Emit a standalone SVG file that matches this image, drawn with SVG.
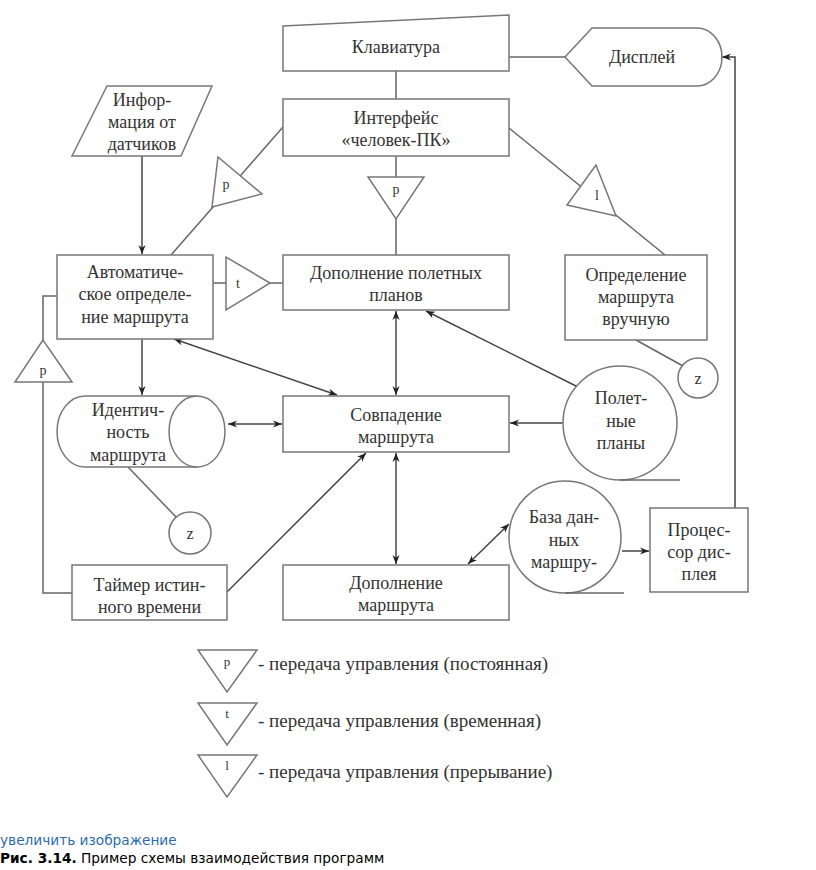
<svg xmlns="http://www.w3.org/2000/svg" width="816" height="870" viewBox="0 0 816 870">
<defs>
<marker id="ah" viewBox="0 0 10 10" refX="10" refY="5" markerWidth="9" markerHeight="9" markerUnits="userSpaceOnUse" orient="auto-start-reverse">
<path d="M0,1 L10,5 L0,9 L3,5 Z" fill="#222"/>
</marker>
<style>
.s{fill:#fff;stroke:#777;stroke-width:1.5}
.l{fill:none;stroke:#666;stroke-width:1.5}
.a{fill:none;stroke:#444;stroke-width:1.5}
.t{font-family:"Liberation Serif","Times New Roman",serif;font-size:18px;fill:#333;text-anchor:middle}
.m{font-family:"Liberation Serif","Times New Roman",serif;font-size:14px;fill:#333;text-anchor:middle}
.g{font-family:"Liberation Serif","Times New Roman",serif;font-size:19px;fill:#333}
</style>
</defs>
<rect width="816" height="870" fill="#fff"/>

<g id="connectors">
<line class="l" x1="396" y1="71" x2="396" y2="99"/>
<line class="l" x1="509" y1="57" x2="565" y2="57"/>
<polyline class="a" points="735,508 735,57 722,57" marker-end="url(#ah)"/>
<line class="a" x1="142" y1="156" x2="142" y2="254" marker-end="url(#ah)"/>
<line class="l" x1="283" y1="127" x2="171" y2="255"/>
<line class="l" x1="213" y1="283" x2="283" y2="283"/>
<line class="l" x1="396" y1="156" x2="396" y2="255"/>
<line class="l" x1="509" y1="128" x2="665" y2="255"/>
<line class="l" x1="636" y1="340" x2="683" y2="366"/>
<line class="a" x1="578" y1="387" x2="426" y2="311" marker-end="url(#ah)"/>
<line class="a" x1="563" y1="423" x2="510" y2="423" marker-end="url(#ah)"/>
<line class="a" x1="396" y1="311" x2="396" y2="395" marker-start="url(#ah)" marker-end="url(#ah)"/>
<line class="a" x1="174" y1="339" x2="337" y2="395" marker-start="url(#ah)" marker-end="url(#ah)"/>
<line class="a" x1="228" y1="424" x2="282" y2="424" marker-start="url(#ah)" marker-end="url(#ah)"/>
<line class="a" x1="142" y1="339" x2="142" y2="395" marker-end="url(#ah)"/>
<line class="l" x1="128" y1="467" x2="176" y2="517"/>
<polyline class="l" points="72,593 43,593 43,382"/>
<polyline class="l" points="43,340 43,296 57,296"/>
<line class="a" x1="227" y1="592" x2="366" y2="453" marker-end="url(#ah)"/>
<line class="a" x1="396" y1="453" x2="396" y2="564" marker-start="url(#ah)" marker-end="url(#ah)"/>
<line class="a" x1="468" y1="564" x2="509" y2="524" marker-start="url(#ah)" marker-end="url(#ah)"/>
<line class="a" x1="622" y1="551" x2="649" y2="551" marker-end="url(#ah)"/>
</g>

<g id="keyboard">
<polygon class="s" points="283,26 509,15 509,71 283,71"/>
<text class="t" x="396" y="53">Клавиатура</text>
</g>

<g id="display">
<path class="s" d="M565,57 L592,28 L697,28 A25,29 0 0 1 697,86 L592,86 Z"/>
<text class="t" x="642" y="63">Дисплей</text>
</g>

<g id="interface">
<rect class="s" x="283" y="99" width="226" height="57"/>
<text class="t" x="396" y="124">Интерфейс</text>
<text class="t" x="396" y="146">«человек-ПК»</text>
</g>

<g id="sensors">
<polygon class="s" points="107,86 212,86 181,156 72,156"/>
<text class="t" x="142" y="106">Инфор-</text>
<text class="t" x="142" y="128">мация от</text>
<text class="t" x="142" y="150">датчиков</text>
</g>

<g id="tri-p1">
<polygon class="s" points="218,157 262,194 212,207"/>
<text class="m" x="226" y="189">p</text>
</g>

<g id="tri-t">
<polygon class="s" points="226,257 226,310 270,283"/>
<text class="m" x="238" y="288">t</text>
</g>

<g id="tri-p2">
<polygon class="s" points="368,177 424,177 396,219"/>
<text class="m" x="396" y="194">p</text>
</g>

<g id="tri-l">
<polygon class="s" points="596,165 567,205 616,216"/>
<text class="m" x="597" y="200">l</text>
</g>

<g id="tri-p3">
<polygon class="s" points="43,340 15,382 72,382"/>
<text class="m" x="43" y="375">p</text>
</g>

<g id="auto">
<rect class="s" x="57" y="255" width="156" height="84"/>
<text class="t" x="135" y="278">Автоматиче-</text>
<text class="t" x="135" y="300">ское определе-</text>
<text class="t" x="135" y="323">ние маршрута</text>
</g>

<g id="flightplans-add">
<rect class="s" x="283" y="255" width="226" height="55"/>
<text class="t" x="396" y="279">Дополнение полетных</text>
<text class="t" x="396" y="301">планов</text>
</g>

<g id="manual">
<rect class="s" x="565" y="255" width="142" height="85"/>
<text class="t" x="636" y="281">Определение</text>
<text class="t" x="636" y="303">маршрута</text>
<text class="t" x="636" y="325">вручную</text>
</g>

<g id="z-right">
<circle class="s" cx="698" cy="378" r="20"/>
<text class="m" x="698" y="384" style="font-size:16px">z</text>
</g>

<g id="flightplans">
<circle class="s" cx="620" cy="423" r="57"/>
<line class="l" x1="620" y1="480" x2="680" y2="480"/>
<text class="t" x="621" y="404">Полет-</text>
<text class="t" x="621" y="427">ные</text>
<text class="t" x="621" y="449">планы</text>
</g>

<g id="match">
<rect class="s" x="283" y="396" width="226" height="56"/>
<text class="t" x="396" y="421">Совпадение</text>
<text class="t" x="396" y="443">маршрута</text>
</g>

<g id="identity">
<path class="s" d="M197,396 L85,396 A28,35.5 0 0 0 85,467 L197,467"/>
<ellipse class="s" cx="197" cy="431.5" rx="28" ry="35.5"/>
<text class="t" x="128" y="416">Идентич-</text>
<text class="t" x="128" y="438">ность</text>
<text class="t" x="128" y="461">маршрута</text>
</g>

<g id="z-left">
<circle class="s" cx="190" cy="533" r="21"/>
<text class="m" x="190" y="539" style="font-size:16px">z</text>
</g>

<g id="timer">
<rect class="s" x="72" y="565" width="155" height="55"/>
<text class="t" x="149.5" y="591">Таймер истин-</text>
<text class="t" x="149.5" y="613">ного времени</text>
</g>

<g id="route-add">
<rect class="s" x="283" y="565" width="226" height="55"/>
<text class="t" x="396" y="589">Дополнение</text>
<text class="t" x="396" y="611">маршрута</text>
</g>

<g id="database">
<circle class="s" cx="565" cy="537" r="56"/>
<line class="l" x1="565" y1="593" x2="624" y2="593"/>
<text class="t" x="564" y="523">База дан-</text>
<text class="t" x="564" y="546">ных</text>
<text class="t" x="564" y="568">маршру-</text>
</g>

<g id="processor">
<rect class="s" x="650" y="508" width="98" height="84"/>
<text class="t" x="699" y="536">Процес-</text>
<text class="t" x="699" y="558">сор дис-</text>
<text class="t" x="699" y="580">плея</text>
</g>

<g id="legend">
<polygon class="s" points="198,650 257,650 227,692"/>
<text class="m" x="227" y="666" style="font-size:13px">p</text>
<text class="g" x="258" y="670">- передача управления (постоянная)</text>
<polygon class="s" points="198,703 257,703 227,745"/>
<text class="m" x="227" y="718" style="font-size:13px">t</text>
<text class="g" x="258" y="727">- передача управления (временная)</text>
<polygon class="s" points="198,755 257,755 227,797"/>
<text class="m" x="227" y="770" style="font-size:13px">l</text>
<text class="g" x="258" y="778">- передача управления (прерывание)</text>
</g>

<g id="caption">
<text x="0" y="845" style="font-family:'DejaVu Sans',Verdana,sans-serif;font-size:13.7px;fill:#2b6cb0">увеличить изображение</text>
<text x="0" y="863" style="font-family:'DejaVu Sans',Verdana,sans-serif;font-size:13.7px;fill:#000"><tspan font-weight="bold">Рис. 3.14.</tspan> Пример схемы взаимодействия программ</text>
</g>
</svg>
